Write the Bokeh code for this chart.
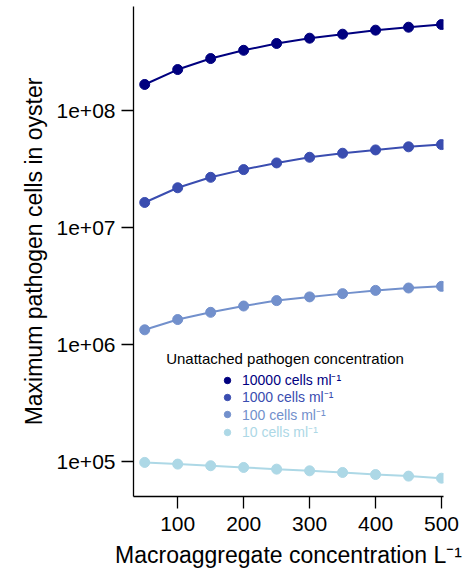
from bokeh.plotting import figure
from bokeh.models import Range1d, FixedTicker, Legend, LegendItem, Label
from bokeh.embed import file_html
from bokeh.resources import INLINE

# ---- data ----
macroaggregate = [50, 100, 150, 200, 250, 300, 350, 400, 450, 500]
cells_10000 = [1.67e8, 2.24e8, 2.78e8, 3.27e8, 3.74e8, 4.15e8, 4.49e8, 4.86e8, 5.15e8, 5.43e8]
cells_1000 = [1.64e7, 2.19e7, 2.69e7, 3.13e7, 3.57e7, 3.99e7, 4.32e7, 4.61e7, 4.90e7, 5.12e7]
cells_100 = [1.34e6, 1.64e6, 1.89e6, 2.14e6, 2.38e6, 2.56e6, 2.73e6, 2.91e6, 3.05e6, 3.15e6]
cells_10 = [9.87e4, 9.55e4, 9.25e4, 8.94e4, 8.65e4, 8.37e4, 8.10e4, 7.78e4, 7.54e4, 7.24e4]

series_labels = ["10000 cells ml\u207b\u00b9", "1000 cells ml\u207b\u00b9",
                 "100 cells ml\u207b\u00b9", "10 cells ml\u207b\u00b9"]
series_values = [cells_10000, cells_1000, cells_100, cells_10]
series_colors = ["#00007F", "#3A4DB0", "#7290CC", "#ADD8E6"]

x_ticks = [100, 200, 300, 400, 500]
y_ticks = [1e5, 1e6, 1e7, 1e8]
y_tick_labels = ["1e+05", "1e+06", "1e+07", "1e+08"]

legend_title = "Unattached pathogen concentration"
x_title = "Macroaggregate concentration L\u207b\u00b9"
y_title = "Maximum pathogen cells in oyster"

FONT = "Liberation Sans"

p = figure(width=471, height=572, output_backend="svg", toolbar_location=None,
           y_axis_type="log",
           x_range=Range1d(33, 503), y_range=Range1d(5.05e4, 7.74e8),
           min_border_left=133, min_border_right=28, min_border_top=6,
           min_border_bottom=76)
p.outline_line_color = None
p.grid.visible = False
p.background_fill_color = "white"

renderers = []
for vals, col in zip(series_values, series_colors):
    p.line(macroaggregate, vals, line_color=col, line_width=2)
    r = p.scatter(macroaggregate, vals, size=10, fill_color=col, line_color=col)
    renderers.append(r)

# axes
p.xaxis.ticker = FixedTicker(ticks=x_ticks)
p.yaxis.ticker = FixedTicker(ticks=y_ticks)
p.yaxis.major_label_overrides = {v: l for v, l in zip(y_ticks, y_tick_labels)}
for ax in (p.xaxis[0], p.yaxis[0]):
    ax.axis_line_color = "black"
    ax.axis_line_width = 1.3
    ax.major_tick_line_color = "black"
    ax.major_tick_line_width = 1.3
    ax.major_tick_out = 12
    ax.major_tick_in = 0
    ax.minor_tick_out = 0
    ax.minor_tick_in = 0
    ax.major_label_text_font = FONT
    ax.major_label_text_font_size = "21px"
    ax.major_label_text_color = "black"
    ax.axis_label_text_font = FONT
    ax.axis_label_text_font_size = "23px"
    ax.axis_label_text_font_style = "normal"
    ax.axis_label_text_color = "black"
p.xaxis.axis_label = x_title
p.yaxis.axis_label = y_title
p.xaxis.major_label_standoff = 8
p.xaxis.axis_label_standoff = 8
p.yaxis.major_label_standoff = 6
p.yaxis.axis_label_standoff = 7

# legend title
p.add_layout(Label(x=151.5, y=138, x_units="screen", y_units="screen",
                   text=legend_title, text_font=FONT, text_font_size="15px",
                   text_align="center", text_baseline="middle", text_color="black"))

# legend rows (one legend per row so each label has its own colour)
row_centers = [380.7, 398.0, 415.3, 432.7]   # page px
frame_bottom = 495.7
for r, lab, col, c in zip(renderers, series_labels, series_colors, row_centers):
    lg = Legend(items=[LegendItem(label=lab, renderers=[r])],
                location=(86, frame_bottom - (c + 8)),
                padding=0, margin=0, spacing=0,
                glyph_width=16, glyph_height=16, label_height=16,
                label_standoff=7,
                border_line_color=None, background_fill_alpha=0,
                label_text_font=FONT, label_text_font_size="14px",
                label_text_color=col, label_text_baseline="middle")
    p.add_layout(lg)

open("out.html", "w").write(file_html(p, INLINE))
